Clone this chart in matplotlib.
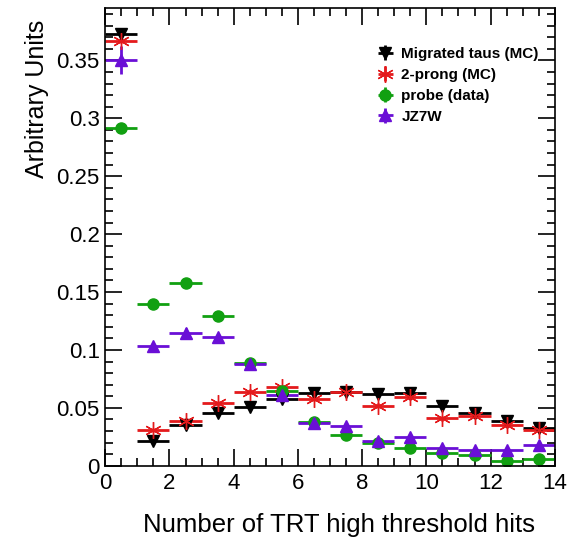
import numpy as np
import matplotlib.pyplot as plt
from matplotlib.ticker import MultipleLocator

plt.rcParams['font.family'] = ['Liberation Sans', 'DejaVu Sans']

# bin centres of TRT high threshold hits
bins = [0.5, 1.5, 2.5, 3.5, 4.5, 5.5, 6.5, 7.5, 8.5, 9.5, 10.5, 11.5, 12.5, 13.5]

migrated = [0.373, 0.021, 0.035, 0.046, 0.051, 0.058, 0.063, 0.064, 0.062, 0.063, 0.052, 0.046, 0.039, 0.033]
two_prong = [0.367, 0.031, 0.039, 0.054, 0.064, 0.068, 0.058, 0.064, 0.052, 0.059, 0.041, 0.043, 0.035, 0.031]
probe = [0.292, 0.140, 0.158, 0.129, 0.089, 0.065, 0.038, 0.027, 0.020, 0.015, 0.011, 0.009, 0.004, 0.006]
jz7w = [0.350, 0.103, 0.115, 0.111, 0.088, 0.061, 0.037, 0.034, 0.021, 0.025, 0.015, 0.014, 0.014, 0.018]
jz7w_err = [0.012, 0.004, 0.004, 0.004, 0.004, 0.003, 0.003, 0.003, 0.002, 0.002, 0.002, 0.002, 0.002, 0.002]

fig = plt.figure(figsize=(5.69, 5.48), dpi=100)
ax = fig.add_axes([0.185, 0.15, 0.79, 0.835])

xerr = 0.5
ax.errorbar(bins, migrated, xerr=xerr, yerr=0.002, fmt='v', color='black', ms=8, lw=2,
            elinewidth=2, capsize=0, label='Migrated taus (MC)')
ax.errorbar(bins, two_prong, xerr=xerr, yerr=0.002, fmt='', ls='none', marker=(6, 2, 0),
            color='#e41a1c', ms=12, mew=1.0, elinewidth=2, capsize=0, label='2-prong (MC)')
ax.errorbar(bins, probe, xerr=xerr, yerr=0.002, fmt='o', color='#11a011', ms=8, lw=2,
            elinewidth=2, capsize=0, label='probe (data)')
ax.errorbar(bins, jz7w, xerr=xerr, yerr=jz7w_err, fmt='^', color='#6a0fd6', ms=8, lw=2,
            elinewidth=2, capsize=0, label='JZ7W')

ax.set_xlim(0, 14)
ax.set_ylim(0, 0.395)
ax.xaxis.set_major_locator(MultipleLocator(2))
ax.xaxis.set_minor_locator(MultipleLocator(0.5))
ax.yaxis.set_major_locator(MultipleLocator(0.05))
ax.yaxis.set_minor_locator(MultipleLocator(0.01))
ax.yaxis.set_major_formatter(plt.FuncFormatter(lambda v, p: ('%g' % round(v, 3))))
ax.tick_params(which='both', direction='in', top=True, right=True, labelsize=16, width=1.2)
ax.tick_params(which='major', length=12)
ax.tick_params(which='minor', length=6)
ax.tick_params(axis='x', pad=5)
ax.tick_params(axis='y', pad=4)
for s in ax.spines.values():
    s.set_linewidth(1.2)

ax.set_xlabel('Number of TRT high threshold hits', fontsize=18.5, ha='right', x=0.955, labelpad=14)
ax.set_ylabel('Arbitrary Units', fontsize=18, ha='right', y=0.975, labelpad=5)

leg = ax.legend(loc='upper right', bbox_to_anchor=(0.995, 0.945), frameon=False,
                handlelength=1.5, handletextpad=0.3, labelspacing=0.45,
                prop={'weight': 'bold', 'size': 11})

fig.savefig('out.png', dpi=100)
